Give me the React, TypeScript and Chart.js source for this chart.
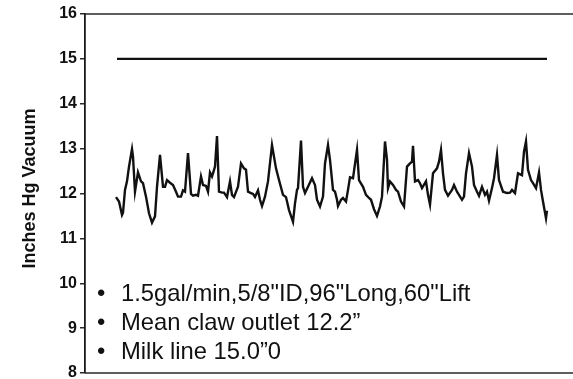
import React, { useEffect, useRef } from "react";
import { Chart, registerables } from "chart.js";

Chart.register(...registerables);

// Sample times (arbitrary time units along the trace)
const sampleTimes = [
  31, 34, 37, 38, 40, 42, 44, 47, 48, 50, 53, 56, 58, 61, 64, 67, 70, 72, 75, 78,
  80, 82, 85, 88, 91, 93, 96, 98, 100, 103, 106, 108, 111, 113, 116, 118, 121, 123, 125, 127,
  128, 130, 132, 134, 137, 139, 142, 145, 147, 149, 153, 156, 159, 161, 163, 166, 168, 170, 173, 175,
  177, 180, 183, 187, 191, 194, 198, 201, 204, 208, 210, 212, 213, 216, 218, 220, 223, 227, 230, 232,
  235, 238, 240, 243, 245, 248, 250, 252, 253, 256, 258, 261, 263, 265, 268, 272, 274, 278, 281, 284,
  286, 289, 292, 295, 297, 300, 302, 303, 305, 308, 311, 313, 316, 319, 322, 325, 327, 328, 330, 333,
  335, 337, 341, 343, 345, 348, 352, 354, 356, 358, 360, 363, 367, 369, 372, 377, 379, 381, 384, 387,
  389, 392, 394, 397, 400, 402, 404, 407, 409, 412, 414, 418, 422, 425, 427, 430, 433, 437, 439, 441,
  443, 446, 448, 451, 454, 456, 458, 461, 462,
];

// Claw outlet vacuum (inches Hg)
const clawVacuum = [
  11.92, 11.82, 11.52, 11.57, 12.08, 12.27, 12.6, 12.99, 12.82, 12.04, 12.47, 12.27, 12.23, 11.93, 11.56, 11.35, 11.49, 12.15, 12.86, 12.15,
  12.15, 12.3, 12.24, 12.19, 12.04, 11.93, 11.93, 12.07, 12.04, 12.9, 11.99, 11.95, 11.97, 11.95, 12.38, 12.19, 12.17, 12.04, 12.47, 12.38,
  12.45, 12.6, 13.28, 12.04, 12.02, 12.02, 11.92, 12.27, 11.97, 11.92, 12.15, 12.67, 12.56, 12.53, 12.04, 12.01, 11.99, 11.92, 12.07, 11.86,
  11.72, 11.93, 12.27, 13.08, 12.56, 12.3, 11.97, 11.92, 11.63, 11.37, 11.78, 12.08, 12.12, 13.18, 12.15, 12.01, 12.15, 12.34, 12.19, 11.86,
  11.71, 11.93, 12.67, 13.08, 12.75, 12.08, 12.04, 11.86, 11.72, 11.86, 11.9, 11.82, 12.08, 12.36, 12.34, 12.97, 12.3, 12.15, 11.97, 11.9,
  11.86, 11.65, 11.5, 11.71, 11.93, 13.16, 12.75, 12.12, 12.27, 12.19, 12.08, 12.04, 11.82, 11.71, 12.6, 12.67, 12.71, 13.06, 12.27, 12.3,
  12.23, 12.12, 12.27, 11.97, 11.75, 12.45, 12.56, 12.71, 12.97, 12.45, 12.08, 11.95, 12.08, 12.19, 12.04, 11.86, 11.93, 12.45, 12.9, 12.6,
  12.19, 12.04, 11.95, 12.15, 11.97, 12.04, 11.84, 12.12, 12.34, 12.86, 12.3, 12.04, 12.01, 12.02, 12.08, 12.01, 12.45, 12.41, 12.93, 13.16,
  12.53, 12.3, 12.23, 12.12, 12.47, 12.08, 11.82, 11.45, 11.62,
];

// Milk line vacuum (inches Hg)
const milkLineTimes = [32, 462];
const milkLineVacuum = [15.0, 15.0];

const yMin = 8;
const yMax = 16;
const yStep = 1;
const xMin = 0;
const xMax = 495;

const yTitle = "Inches Hg Vacuum";
const notes = [
  '1.5gal/min,5/8"ID,96"Long,60"Lift',
  "Mean claw outlet 12.2\u201D",
  "Milk line 15.0\u201D0",
];

const FONT = "'Liberation Sans', Arial, Helvetica, sans-serif";
const INK = "#111111";

const decorPlugin = {
  id: "decor",
  afterDraw(chart: any) {
    const { ctx, chartArea } = chart;
    ctx.save();
    // top and bottom frame lines
    ctx.strokeStyle = "#2a2a2a";
    ctx.lineWidth = 1.5;
    ctx.beginPath();
    ctx.moveTo(chartArea.left, chartArea.top);
    ctx.lineTo(chartArea.right, chartArea.top);
    ctx.moveTo(chartArea.left, chartArea.bottom);
    ctx.lineTo(chartArea.right, chartArea.bottom);
    ctx.stroke();

    // axis title
    ctx.fillStyle = INK;
    ctx.font = `bold 18px ${FONT}`;
    ctx.textAlign = "center";
    ctx.textBaseline = "middle";
    ctx.translate(30, 188.5);
    ctx.rotate(-Math.PI / 2);
    ctx.fillText(yTitle, 0, 0);
    ctx.restore();

    // notes
    ctx.save();
    ctx.fillStyle = INK;
    ctx.font = `23.8px ${FONT}`;
    ctx.textAlign = "left";
    ctx.textBaseline = "alphabetic";
    notes.forEach((t, i) => {
      const y = 301 + i * 29;
      ctx.fillText("\u2022", 97, y);
      ctx.fillText(t, 121, y);
    });
    ctx.restore();
  },
};

export default function App() {
  const ref = useRef<HTMLCanvasElement | null>(null);

  useEffect(() => {
    document.body.style.margin = "0";
    const canvas = ref.current;
    if (!canvas) return;
    const chart = new Chart(canvas, {
      type: "line",
      data: {
        datasets: [
          {
            label: "Claw outlet",
            data: sampleTimes.map((t, i) => ({ x: t, y: clawVacuum[i] })),
            borderColor: INK,
            borderWidth: 2.4,
            pointRadius: 0,
            tension: 0,
            fill: false,
          },
          {
            label: "Milk line",
            data: milkLineTimes.map((t, i) => ({ x: t, y: milkLineVacuum[i] })),
            borderColor: INK,
            borderWidth: 2.2,
            pointRadius: 0,
            tension: 0,
            fill: false,
          },
        ],
      },
      options: {
        responsive: false,
        animation: false,
        layout: { padding: { top: 14, bottom: 15, left: 0, right: 0 } },
        plugins: {
          legend: { display: false },
          tooltip: { enabled: false },
          title: { display: false },
        },
        scales: {
          x: {
            type: "linear",
            min: xMin,
            max: xMax,
            display: false,
          },
          y: {
            min: yMin,
            max: yMax,
            afterFit: (s: any) => {
              s.width = 85;
            },
            ticks: {
              stepSize: yStep,
              color: INK,
              padding: 3,
              font: { family: FONT, size: 16, weight: "bold" },
            },
            grid: {
              drawOnChartArea: false,
              drawTicks: true,
              tickLength: 5,
              color: "#2a2a2a",
              lineWidth: 1.5,
            },
            border: { display: true, color: "#1a1a1a", width: 1.8 },
          },
        },
      },
      plugins: [decorPlugin],
    });
    return () => chart.destroy();
  }, []);

  return (
    <div style={{ width: 573, height: 379, overflow: "hidden", background: "#fff" }}>
      <canvas ref={ref} width={580} height={388} style={{ display: "block" }} />
    </div>
  );
}
